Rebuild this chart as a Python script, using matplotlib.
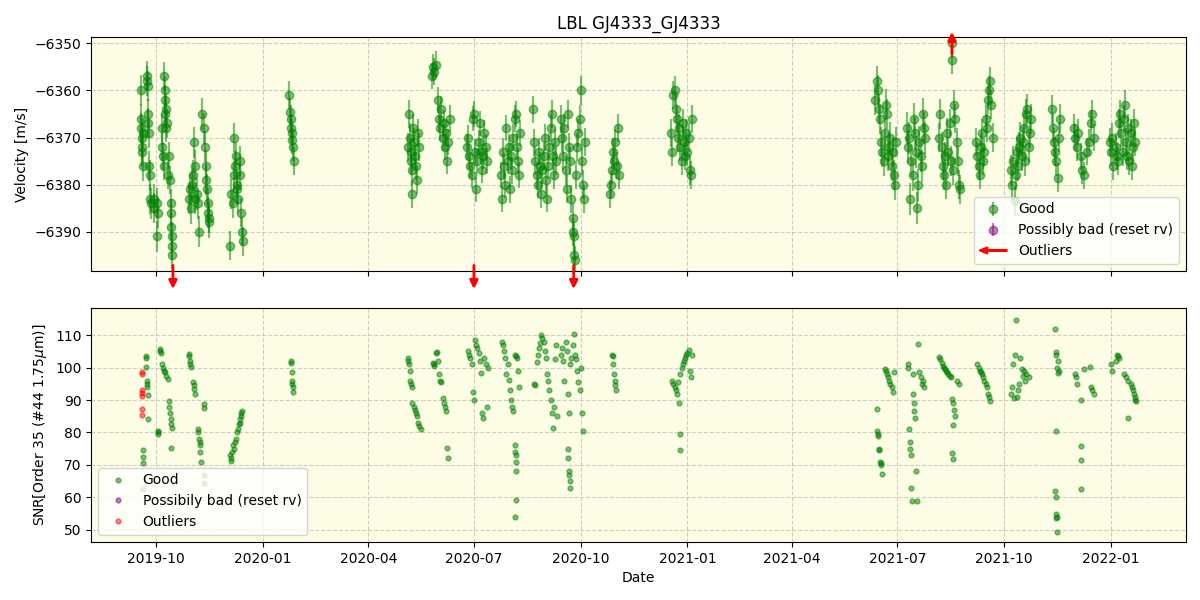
import matplotlib
matplotlib.use('Agg')
import matplotlib.pyplot as plt
import matplotlib.dates as mdates
import numpy as np
import pandas as pd
from matplotlib.patches import FancyArrow
from matplotlib.legend_handler import HandlerPatch


# All times are days after 2019-10-01
t0 = pd.Timestamp('2019-10-01')

# velocity per night group (days, velocity [m/s])
rv_days = [
    [-13, -13, -13, -12.5, -12, -12, -11.5, -11, -8, -7.5, -7, -7, -6.5, -6, -6, -5.5, -5, -4.5, -2, -2, 1, 1, 1.5],
    [5, 5.5, 6, 6.5, 7, 7.5, 8, 8, 8.5, 9, 9.5, 10, 11, 12, 12.5, 13, 13, 13.5, 14, 14],
    [28, 29, 30, 31, 32, 33, 33.5, 34, 35, 36, 37, 40, 41, 42, 43, 43.5, 44, 44.5, 45, 45.5, 46],
    [64, 65, 66, 67, 67.5, 68, 69, 69.5, 70, 71, 72, 72.5, 73, 74, 75],
    [115, 115.5, 116, 116.5, 117, 117.5, 118, 118.5],
    [217, 218, 219, 219.5, 220, 220.5, 221, 221.5, 222, 223, 224, 225, 226, 227],
    [238, 239, 240, 241, 243, 244, 245, 246, 247, 248, 249, 250, 251, 252, 253],
    [268, 269, 270, 271, 272, 273, 274, 275, 276, 277, 278, 279, 280, 281, 282, 283, 284, 285],
    [297, 298, 299, 300, 301, 302, 303, 304, 305, 306, 307, 308, 309, 310, 311, 312, 313, 314],
    [325, 326, 327, 328, 329, 330, 331, 332, 333, 334, 335, 336, 337, 338, 339, 340, 341, 342, 343, 344, 345],
    [349, 350, 351, 352, 353, 354, 355, 356, 357, 358, 359, 359.5, 360, 360.5, 361, 362, 363, 364, 365, 366, 367, 368, 369, 370],
    [391, 392, 393, 394, 395, 396, 397, 398, 399],
    [444, 445, 446, 447, 448, 449, 450, 451, 452, 453, 454, 455, 456, 457, 458, 459, 460, 461, 462],
    [620, 621, 622, 623, 624, 625, 626, 627, 628, 629, 630, 631, 632, 633, 634, 635, 636, 637, 638],
    [647, 648, 649, 650, 651, 652, 653, 654, 655, 656, 657, 658, 659, 660, 661, 662, 663],
    [675, 676, 677, 678, 679, 680, 681, 682, 683, 684, 685, 686, 686, 687, 688, 689, 690, 691, 692, 693],
    [707, 708, 709, 710, 711, 712, 713, 714, 715, 716, 717, 718, 719, 720, 721],
    [737, 738, 739, 740, 741, 742, 743, 744, 745, 746, 747, 748, 749, 750, 751, 752, 753, 754],
    [772, 773, 774, 775, 776, 777, 778, 779],
    [791, 792, 794, 795, 797, 798, 800, 802, 804, 806, 807, 808],
    [822, 823, 824, 825, 827, 828, 829, 830, 831, 832, 833, 834, 835, 836, 837, 838, 839, 840, 841, 842, 843, 844],
]
rv_vals = [
    [-6360, -6366, -6368, -6370, -6372, -6373, -6376, -6369, -6357, -6358, -6359, -6365, -6367, -6369, -6376, -6378, -6383, -6384, -6383, -6385, -6391, -6384, -6386],
    [-6372, -6368, -6374, -6376, -6357, -6360, -6362, -6365, -6368, -6364, -6367, -6378, -6374, -6379, -6384, -6386, -6389, -6391, -6393, -6395],
    [-6383, -6381, -6385, -6380, -6378, -6371, -6376, -6383, -6382, -6384, -6390, -6365, -6368, -6372, -6376, -6379, -6381, -6384, -6386, -6387, -6388],
    [-6393, -6382, -6384, -6370, -6378, -6376, -6374, -6380, -6381, -6383, -6375, -6378, -6386, -6390, -6392],
    [-6361, -6364.5, -6366, -6368, -6369, -6370.5, -6372, -6375],
    [-6372, -6365, -6370, -6373, -6375, -6377, -6382, -6368, -6371, -6374, -6376, -6379, -6369, -6372],
    [-6357, -6355, -6356, -6354.5, -6362, -6366, -6368, -6364, -6370, -6367, -6372, -6369, -6375, -6371, -6366],
    [-6372, -6370, -6374, -6376, -6378, -6366, -6365, -6373, -6381, -6375, -6371, -6367, -6373, -6377, -6374, -6369, -6372, -6375],
    [-6378, -6383, -6373, -6376, -6380, -6368, -6375, -6372, -6381, -6374, -6377, -6370, -6366, -6365, -6372, -6375, -6378, -6369],
    [-6364, -6371, -6375, -6378, -6380, -6373, -6376, -6382, -6377, -6374, -6370, -6379, -6383, -6376, -6372, -6368, -6365, -6374, -6378, -6371, -6375],
    [-6366, -6370, -6374, -6368, -6377, -6381, -6365, -6372, -6375, -6383, -6387, -6390, -6391, -6395, -6396, -6378, -6372, -6369, -6366, -6360, -6375, -6380, -6383, -6371],
    [-6382, -6380, -6377, -6373, -6375, -6371, -6376, -6368, -6378],
    [-6369, -6373, -6361, -6360, -6364, -6366, -6370, -6368, -6372, -6375, -6367, -6371, -6374, -6369, -6373, -6370, -6377, -6378, -6366],
    [-6362, -6358, -6360, -6364, -6366, -6371, -6373, -6375, -6369, -6363, -6365, -6374, -6372, -6370, -6376, -6373, -6378, -6380, -6371],
    [-6368, -6372, -6370, -6383, -6375, -6378, -6366, -6369, -6373, -6385, -6380, -6371, -6374, -6376, -6365, -6368, -6370],
    [-6370, -6365, -6372, -6376, -6378, -6374, -6380, -6369, -6373, -6367, -6375, -6350, -6353.5, -6377, -6363, -6366, -6371, -6375, -6380, -6381],
    [-6371, -6374, -6376, -6378, -6372, -6369, -6375, -6373, -6366, -6368, -6362, -6360, -6358, -6363, -6370],
    [-6377, -6380, -6375, -6383.5, -6378, -6373, -6376, -6372, -6370, -6374, -6371, -6368, -6375, -6365, -6364, -6372, -6369, -6366],
    [-6364, -6368, -6371, -6373, -6375, -6378.5, -6370, -6366],
    [-6368, -6370, -6372, -6369, -6374, -6377, -6378, -6373, -6371, -6367, -6365, -6370],
    [-6371, -6373, -6370, -6376, -6372, -6374, -6375, -6367, -6365, -6369, -6373, -6366, -6363, -6371, -6374, -6368, -6375, -6369, -6376, -6372, -6367, -6371],
]
# typical velocity error of each night group
rv_err = [3.2, 3.0, 3.3, 3.1, 2.9, 3.0, 2.8, 2.7, 2.8, 2.9, 3.0, 2.9, 3.0, 3.2, 3.4, 3.1, 3.0, 3.2, 3.1, 2.9, 3.0]

# outliers flagged with arrows (days); -1 = below the panel, +1 = above
out_days = [14.6, 274, 360, 686]
out_side = [-1, -1, -1, 1]

# SNR per night group (days, SNR)
snr_days = [
    [-9, -9, -8.5, -8, -8, -7.5, -7, -7, -11, -11, -11.5, -11.5],
    [1.5, 2, 2],
    [3, 3.5, 4, 5, 6, 7, 8, 9, 10, 11, 11.5, 12, 12.5, 13, 13.5, 13],
    [28, 28.5, 29, 29.5, 30, 32, 32.5, 33, 33.5, 41, 41.5, 36, 36.5, 37, 37.5, 38, 38, 39, 41, 41],
    [64, 64.5, 65, 65.5, 66, 67, 68, 69, 70, 71, 71.5, 72, 72.5, 73, 73.5, 74],
    [116, 116.5, 117, 117, 117.5, 118, 118],
    [217, 217.5, 218, 218.5, 219, 220, 220.5, 221, 222, 223, 224, 225, 226, 227, 228],
    [239, 239.5, 240, 241, 242, 243, 244, 245, 246, 247, 248, 249, 250, 251, 251.5],
    [269, 270, 271, 272, 273, 274, 275, 276, 277, 278, 279, 280, 281, 282, 283, 284, 285, 286],
    [298, 299, 300, 301, 302, 303, 304, 305, 306, 307, 308, 309, 310, 311, 312, 313, 309, 309.5, 310, 310, 310.5, 310, 309.5],
    [326, 327, 328, 329, 330, 331, 332, 333, 334, 335, 336, 337, 338, 339, 340, 341, 342, 343, 344, 345, 346],
    [349, 350, 351, 352, 353, 354, 355, 356, 357, 358, 359, 360, 361, 362, 363, 364, 365, 366, 367, 368, 355, 355.5, 356, 356, 356.5, 357],
    [393, 393.5, 394, 395, 395.5, 396, 396.5],
    [445, 446, 447, 448, 449, 450, 451, 452, 453, 454, 455, 456, 457, 458, 459, 460, 461, 462, 452, 452],
    [621, 621.5, 622, 622.5, 623, 623.5, 624, 624.5, 625, 626, 628, 629, 630, 631, 632, 633, 634, 635, 636],
    [648, 648.5, 649, 649.5, 650, 650.5, 651, 651.5, 652, 652.5, 653, 653.5, 654, 655, 656, 657, 658, 659, 660, 661, 661.5],
    [675, 676, 677, 678, 679, 680, 681, 682, 683, 684, 685, 690, 692, 686, 687, 688, 689, 686.5, 686, 687],
    [708, 709, 710, 711, 712, 713, 714, 715, 716, 717, 718, 719],
    [741, 740, 745, 739, 746, 748, 750, 747, 752, 749, 744, 738, 743, 737, 742, 739.5],
    [775, 776, 775.5, 777, 776.5, 778, 777.5, 776, 775, 775.5, 776, 776.5, 776, 776.5],
    [805, 800, 792, 793, 794, 806, 807, 808, 797, 797, 797.5, 797],
    [828, 829, 830, 827, 823, 824, 834, 836, 838, 840, 841, 842, 843, 844, 843.5, 844.5, 838],
]
snr_vals = [
    [103.7, 103, 100.3, 96, 95, 94, 91.5, 84, 74.6, 72.5, 70.6, 62.7],
    [80.3, 79.5, 80],
    [105.8, 105, 104.5, 101, 100, 99, 98.5, 97.5, 96.6, 89.6, 88, 86, 84, 82.5, 81.3, 75.2],
    [104.3, 103.5, 102, 101, 100.3, 95.7, 94.5, 93.5, 91.7, 88.7, 87.5, 81, 80, 78, 77, 76, 74, 71, 67, 64.5],
    [73, 72, 71.2, 74, 76, 75, 77, 78, 80, 81, 82.5, 83, 84, 85, 86, 86.5],
    [102, 101.5, 98.5, 96, 95, 94, 92.5],
    [102.8, 102, 101, 99, 96, 95, 94, 89, 88, 87, 86, 85, 83, 82, 81],
    [101.5, 101, 100.5, 104.5, 104.9, 102, 98, 96, 95.7, 90.5, 89, 88, 86.5, 75.2, 72],
    [105, 104, 103, 101, 92.6, 90, 108.6, 107, 106, 104.5, 102, 98.2, 86, 84.4, 103, 101, 88, 100],
    [107.9, 107, 105, 103, 97.9, 101, 96.3, 93, 90, 88, 86.5, 104, 103.5, 103, 99, 94, 76, 74, 73, 71, 68, 59.3, 53.8],
    [95, 94.5, 101.8, 104, 106, 107.5, 110, 109, 108, 105, 103, 97.9, 96, 93, 90, 86, 81.3, 88, 102.5, 107, 85],
    [104, 106, 102, 96, 108, 105, 92, 86, 101, 103, 107, 110.4, 104, 102.5, 98.8, 95.7, 93, 100, 86, 80.4, 74.9, 72, 68, 67, 65, 63],
    [104, 103.5, 101, 98, 96, 94.5, 93.2],
    [96, 95, 94, 93, 92, 95.5, 89, 98, 100, 101, 102, 103, 104, 104.5, 105.5, 99, 97, 104, 79.5, 74.6],
    [87.1, 80.4, 79.5, 79, 75, 74.5, 71, 70.5, 70, 67.2, 99.7, 99, 98, 97, 96, 95, 94, 92.6, 98.5],
    [101.2, 100, 81, 77, 75, 73, 63, 59, 98, 91.7, 89, 86.5, 84.4, 68.2, 59, 107.4, 98.5, 97, 95, 96, 94],
    [103.4, 102.5, 101.5, 100.5, 100, 99.5, 99, 98.5, 98, 97.5, 97, 96, 95, 90.2, 89, 87, 85, 82.2, 73.7, 71.8],
    [101.2, 100, 99, 98.5, 98, 97, 96, 95, 94, 92, 91, 89.6],
    [114.7, 104, 103, 101, 99.5, 99, 98, 97.5, 97, 96, 95, 94, 93, 92, 91, 90.5],
    [112, 104.9, 104, 102, 100, 99, 98.2, 80.4, 62, 60, 55, 54, 53.5, 49.2],
    [100.3, 99.5, 98, 97, 95, 94, 93, 92, 89.9, 75.8, 71.5, 62.7],
    [104, 103.5, 103, 102, 101, 99, 98, 97, 96, 95, 94, 93, 92, 91, 90, 89.6, 84.4],
]
snr_out_days = [-12.5, -12.5, -12, -12, -12.5, -12, -12.5]
snr_out_vals = [98.5, 98.1, 93.2, 92.1, 91.1, 87.2, 85.3]


def to_dates(days):
    return t0 + pd.to_timedelta(np.asarray(days, dtype=float), unit='D')


def arrow_patch(legend, orig_handle, xdescent, ydescent, width, height, fontsize):
    return FancyArrow(width, height / 2, -width, 0, width=1.2, head_width=5,
                      head_length=6, length_includes_head=True, color='red')


rv_t = to_dates(np.concatenate(rv_days))
rv_v = np.concatenate(rv_vals)
rv_e = np.concatenate([[e] * len(d) for e, d in zip(rv_err, rv_days)])
snr_t = to_dates(np.concatenate(snr_days))
snr_v = np.concatenate(snr_vals)

bg = '#fdfde6'
fig, (ax1, ax2) = plt.subplots(2, 1, figsize=(12, 6), dpi=100, sharex=True)
fig.subplots_adjust(left=0.076, right=0.988, top=0.938, bottom=0.097, hspace=0.16)

# top: velocities
ax1.set_facecolor(bg)
ax1.errorbar(rv_t, rv_v, yerr=rv_e, fmt='o', color='green', alpha=0.5,
             ms=6, elinewidth=1.6, label='Good')
ax1.errorbar([], [], yerr=[], fmt='o', color='purple', alpha=0.5, ms=6,
             label='Possibly bad (reset rv)')
for d, s in zip(out_days, out_side):
    x = to_dates([d])[0]
    if s < 0:
        y0, y1 = 0.035, -0.09
    else:
        y0, y1 = 0.915, 1.035
    ax1.annotate('', xy=(x, y1), xytext=(x, y0), xycoords=('data', 'axes fraction'),
                 arrowprops=dict(arrowstyle='-|>', color='red', lw=2, mutation_scale=12),
                 annotation_clip=False)
ax1.set_ylim(-6398.3, -6348.7)
ax1.set_ylabel('Velocity [m/s]')
ax1.set_title('LBL GJ4333_GJ4333')
ax1.grid(True, linestyle='--', alpha=0.6)
h, l = ax1.get_legend_handles_labels()
arrow_proxy = FancyArrow(0, 0, 1, 0, color='red')
ax1.legend(h + [arrow_proxy], l + ['Outliers'], loc='lower right',
           handler_map={FancyArrow: HandlerPatch(patch_func=arrow_patch)})

# bottom: SNR
ax2.set_facecolor(bg)
ax2.plot(snr_t, snr_v, 'o', color='green', alpha=0.5, ms=3.5, label='Good')
ax2.plot([], [], 'o', color='purple', alpha=0.5, ms=3.5, label='Possibily bad (reset rv)')
ax2.plot(to_dates(snr_out_days), snr_out_vals, 'o', color='red', alpha=0.5, ms=3.5, label='Outliers')
ax2.set_ylim(46.3, 118.3)
ax2.set_ylabel(r'SNR[Order 35 (#44 1.75$\mu$m)]')
ax2.set_xlabel('Date')
ax2.grid(True, linestyle='--', alpha=0.6)
ax2.legend(loc='lower left')

ax2.xaxis.set_major_locator(mdates.MonthLocator(bymonth=[1, 4, 7, 10]))
ax2.xaxis.set_major_formatter(mdates.DateFormatter('%Y-%m'))

fig.savefig('out.png')
